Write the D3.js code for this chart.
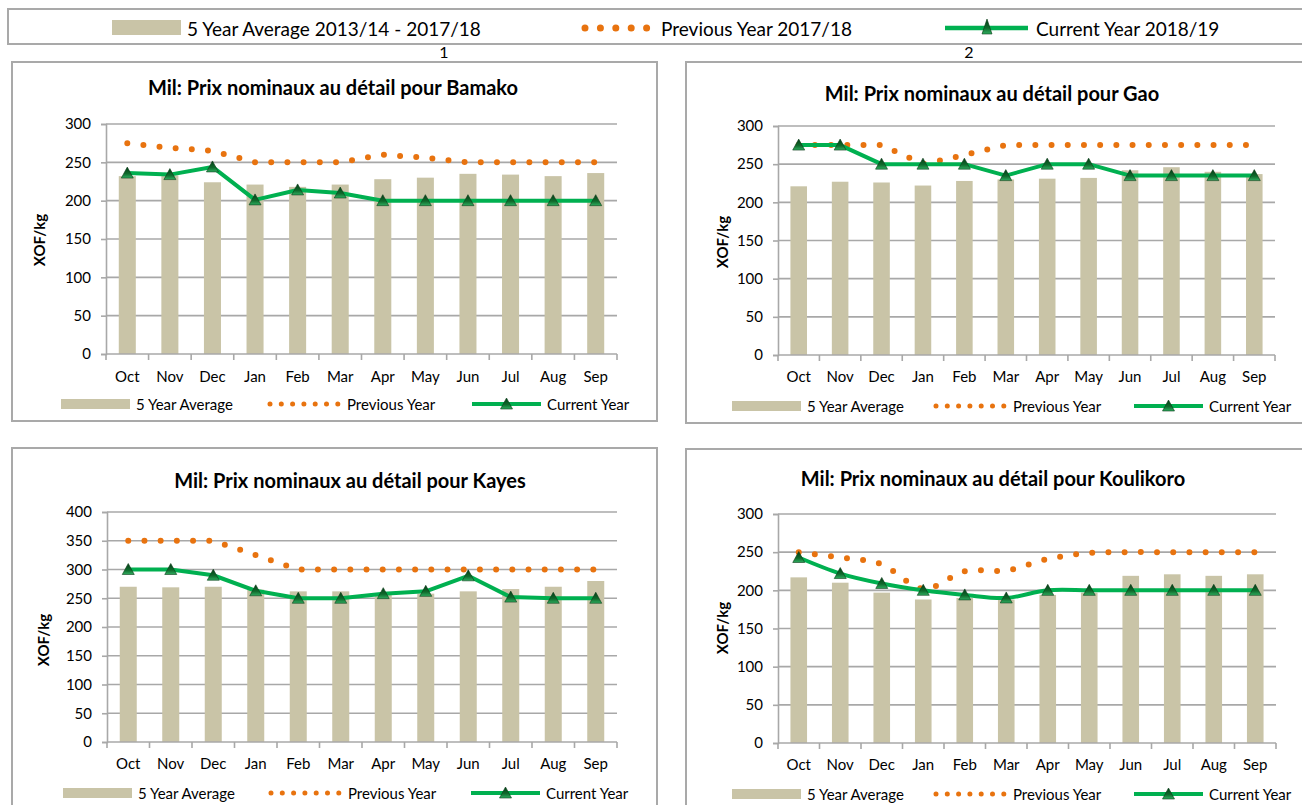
<!DOCTYPE html>
<html><head><meta charset="utf-8">
<script src="https://cdn.jsdelivr.net/npm/d3@7"></script>
<style>
body{margin:0;background:#fff;}
svg{display:block;font-family:Lato,"Noto Sans",sans-serif;}
</style>
</head><body>
<svg id="c" width="1302" height="805"></svg>
<script>
// ---------- DATA ----------
const months = ["Oct","Nov","Dec","Jan","Feb","Mar","Apr","May","Jun","Jul","Aug","Sep"];
const yTicks300 = [0,50,100,150,200,250,300];
const yTicks400 = [0,50,100,150,200,250,300,350,400];

const bamakoAvg  = [232,233,224,221,218,221,228,230,235,234,232,236];
const bamakoPrev = [275,269,265,250,250,250,260,256,250,250,250,250];
const bamakoCur  = [236,234,244,201,214,210,200,200,200,200,200,200];

const gaoAvg  = [221,227,226,222,228,230,231,232,242,246,240,237];
const gaoPrev = [275,275,275,250,262,275,275,275,275,275,275,275];
const gaoCur  = [275,275,250,250,250,235,250,250,235,235,235,235];

const kayesAvg  = [270,269,270,265,262,262,256,258,262,266,270,280];
const kayesPrev = [350,350,350,325,300,300,300,300,300,300,300,300];
const kayesCur  = [300,300,290,263,250,250,258,262,289,252,250,250];

const koulikoroAvg  = [217,210,197,188,190,188,194,197,219,221,219,221];
const koulikoroPrev = [250,243,234,202,225,226,241,249,250,250,250,250];
const koulikoroCur  = [243,222,209,200,194,190,200,200,200,200,200,200];

const titles = [
  "Mil: Prix nominaux au détail pour Bamako",
  "Mil: Prix nominaux au détail pour Gao",
  "Mil: Prix nominaux au détail pour Kayes",
  "Mil: Prix nominaux au détail pour Koulikoro"
];
const topLegendLabels = ["5 Year Average 2013/14 - 2017/18","Previous Year 2017/18","Current Year 2018/19"];
const panelLegendLabels = ["5 Year Average","Previous Year","Current Year"];
const yLabel = "XOF/kg";

// ---------- STYLE / LAYOUT ----------
const C = {bar:"#c9c4a7", orange:"#e8730f", green:"#00b050", grid:"#a8a8a8", border:"#a9a9a9", text:"#000"};

const layout = [
  {box:[12,62,645,359], plot:[106,124,511,230], titleX:333, titleY:87, ylx:39, yly:240, monthY:376, legY:404, leg:[61,270,472]},
  {box:[686,62,700,361], plot:[778,126,497,229], titleX:992, titleY:93, ylx:722, yly:242, monthY:376, legY:406, leg:[732,936,1134]},
  {box:[12,448,645,400], plot:[107,512,510,230], titleX:350, titleY:480, ylx:43, yly:640, monthY:763, legY:793, leg:[63,271,471]},
  {box:[686,449,700,400], plot:[778,514,498,229], titleX:993, titleY:478, ylx:722, yly:628, monthY:764, legY:794, leg:[732,936,1134]}
];
const series = [
  {avg:bamakoAvg, prev:bamakoPrev, cur:bamakoCur, ticks:yTicks300, smooth:false},
  {avg:gaoAvg, prev:gaoPrev, cur:gaoCur, ticks:yTicks300, smooth:false},
  {avg:kayesAvg, prev:kayesPrev, cur:kayesCur, ticks:yTicks400, smooth:false},
  {avg:koulikoroAvg, prev:koulikoroPrev, cur:koulikoroCur, ticks:yTicks300, smooth:true}
];

const svg = d3.select("#c");
svg.append("rect").attr("width",1302).attr("height",805).attr("fill","#fff");

const defs = svg.append("defs");
const grad = defs.append("linearGradient").attr("id","tri").attr("x1",0).attr("y1",0).attr("x2",0).attr("y2",1);
grad.append("stop").attr("offset","0%").attr("stop-color","#063d17");
grad.append("stop").attr("offset","60%").attr("stop-color","#0f6a2c");
grad.append("stop").attr("offset","100%").attr("stop-color","#2fae60");

const triPath = "M0,-6L6,5L-6,5Z";

// ---------- TOP LEGEND ----------
svg.append("rect").attr("x",8).attr("y",9).attr("width",1400).attr("height",35)
  .attr("fill","#fff").attr("stroke",C.border).attr("stroke-width",2);
const tl = svg.append("g").attr("font-size",19);
tl.append("rect").attr("x",112).attr("y",20).attr("width",69).attr("height",15).attr("fill",C.bar);
tl.append("text").attr("x",187).attr("y",28).attr("dominant-baseline","central").text(topLegendLabels[0]);
tl.append("line").attr("x1",585).attr("x2",647.5).attr("y1",28).attr("y2",28)
  .attr("stroke",C.orange).attr("stroke-width",7).attr("stroke-linecap","round").attr("stroke-dasharray","0 15.4");
tl.append("text").attr("x",661).attr("y",28).attr("dominant-baseline","central").text(topLegendLabels[1]);
tl.append("line").attr("x1",945).attr("x2",1028).attr("y1",28).attr("y2",28)
  .attr("stroke",C.green).attr("stroke-width",4.5);
tl.append("path").attr("d","M0,-8L5,7L-5,7Z").attr("transform","translate(987,27)").attr("fill","url(#tri)").attr("stroke","#0a3d17").attr("stroke-width",0.6);
tl.append("text").attr("x",1036).attr("y",28).attr("dominant-baseline","central").text(topLegendLabels[2]);

svg.append("text").attr("x",444).attr("y",51).attr("text-anchor","middle").attr("dominant-baseline","central").attr("font-size",16).text("1");
svg.append("text").attr("x",969).attr("y",51).attr("text-anchor","middle").attr("dominant-baseline","central").attr("font-size",16).text("2");

// ---------- PANELS ----------
layout.forEach((L,i) => {
  const S = series[i];
  const g = svg.append("g");
  g.append("rect").attr("x",L.box[0]).attr("y",L.box[1]).attr("width",L.box[2]).attr("height",L.box[3])
    .attr("fill","#fff").attr("stroke",C.border).attr("stroke-width",2);

  const [px,py,pw,ph] = L.plot;
  const x = d3.scaleBand().domain(months).range([px,px+pw]).paddingInner(0.6).paddingOuter(0.3);
  const y = d3.scaleLinear().domain([0,d3.max(S.ticks)]).range([py+ph,py]);
  const cx = m => x(m) + x.bandwidth()/2;

  g.append("text").attr("x",L.titleX).attr("y",L.titleY).attr("text-anchor","middle")
    .attr("dominant-baseline","central").attr("font-weight","bold").attr("font-size",20).text(titles[i]);

  // gridlines
  g.append("g").selectAll("line").data(S.ticks.filter(t=>t>0)).join("line")
    .attr("x1",px).attr("x2",px+pw).attr("y1",d=>y(d)).attr("y2",d=>y(d))
    .attr("stroke",C.grid).attr("stroke-width",1.6);

  // y axis
  const ya = g.append("g").attr("transform",`translate(${px},0)`)
    .call(d3.axisLeft(y).tickValues(S.ticks).tickSize(5).tickPadding(10));
  ya.select(".domain").attr("stroke",C.grid).attr("stroke-width",1.6);
  ya.selectAll(".tick line").attr("stroke",C.grid).attr("stroke-width",1.6);
  ya.selectAll(".tick text").attr("font-size",15).attr("font-family","Lato").attr("fill",C.text);

  // y label
  g.append("text").attr("transform",`translate(${L.ylx},${L.yly}) rotate(-90)`)
    .attr("text-anchor","middle").attr("dominant-baseline","central").attr("font-weight","bold").attr("font-size",15).text(yLabel);

  // bars
  g.append("g").selectAll("rect").data(S.avg).join("rect")
    .attr("x",(d,k)=>x(months[k])).attr("width",x.bandwidth())
    .attr("y",d=>y(d)).attr("height",d=>y(0)-y(d)).attr("fill",C.bar);

  // x axis
  g.append("line").attr("x1",px).attr("x2",px+pw).attr("y1",y(0)).attr("y2",y(0))
    .attr("stroke",C.grid).attr("stroke-width",1.6);
  const bounds = months.map(m => x(m) - x.step()*x.paddingInner()/2).concat([px+pw]);
  g.append("g").selectAll("line").data(bounds).join("line")
    .attr("x1",d=>d).attr("x2",d=>d).attr("y1",y(0)).attr("y2",y(0)+6)
    .attr("stroke",C.grid).attr("stroke-width",1.6);
  g.append("g").selectAll("text").data(months).join("text")
    .attr("x",m=>cx(m)).attr("y",L.monthY).attr("text-anchor","middle").attr("dominant-baseline","central")
    .attr("font-size",15).text(m=>m);

  // lines
  const curve = S.smooth ? d3.curveCardinal.tension(0) : d3.curveLinear;
  const line = d3.line().x((d,k)=>cx(months[k])).y(d=>y(d)).curve(curve);
  g.append("path").attr("d",line(S.prev)).attr("fill","none").attr("stroke",C.orange)
    .attr("stroke-width",6).attr("stroke-linecap","round").attr("stroke-dasharray","0 16.2");
  g.append("path").attr("d",line(S.cur)).attr("fill","none").attr("stroke",C.green)
    .attr("stroke-width",4).attr("stroke-linejoin","round");
  g.append("g").selectAll("path").data(S.cur).join("path")
    .attr("d",triPath).attr("transform",(d,k)=>`translate(${cx(months[k])},${y(d)})`)
    .attr("fill","url(#tri)").attr("stroke","#0a3d17").attr("stroke-width",0.6);

  // panel legend
  const ly = L.legY;
  const lg = g.append("g").attr("font-size",15);
  lg.append("rect").attr("x",L.leg[0]).attr("y",ly-5).attr("width",69).attr("height",10).attr("fill",C.bar);
  lg.append("text").attr("x",L.leg[0]+75).attr("y",ly).attr("dominant-baseline","central").text(panelLegendLabels[0]);
  lg.append("line").attr("x1",L.leg[1]).attr("x2",L.leg[1]+68).attr("y1",ly).attr("y2",ly)
    .attr("stroke",C.orange).attr("stroke-width",5).attr("stroke-linecap","round").attr("stroke-dasharray","0 11.3");
  lg.append("text").attr("x",L.leg[1]+77).attr("y",ly).attr("dominant-baseline","central").text(panelLegendLabels[1]);
  lg.append("line").attr("x1",L.leg[2]).attr("x2",L.leg[2]+69).attr("y1",ly).attr("y2",ly)
    .attr("stroke",C.green).attr("stroke-width",4);
  lg.append("path").attr("d",triPath).attr("transform",`translate(${L.leg[2]+34.5},${ly})`)
    .attr("fill","url(#tri)").attr("stroke","#0a3d17").attr("stroke-width",0.6);
  lg.append("text").attr("x",L.leg[2]+75).attr("y",ly).attr("dominant-baseline","central").text(panelLegendLabels[2]);
});
</script>
</body></html>
